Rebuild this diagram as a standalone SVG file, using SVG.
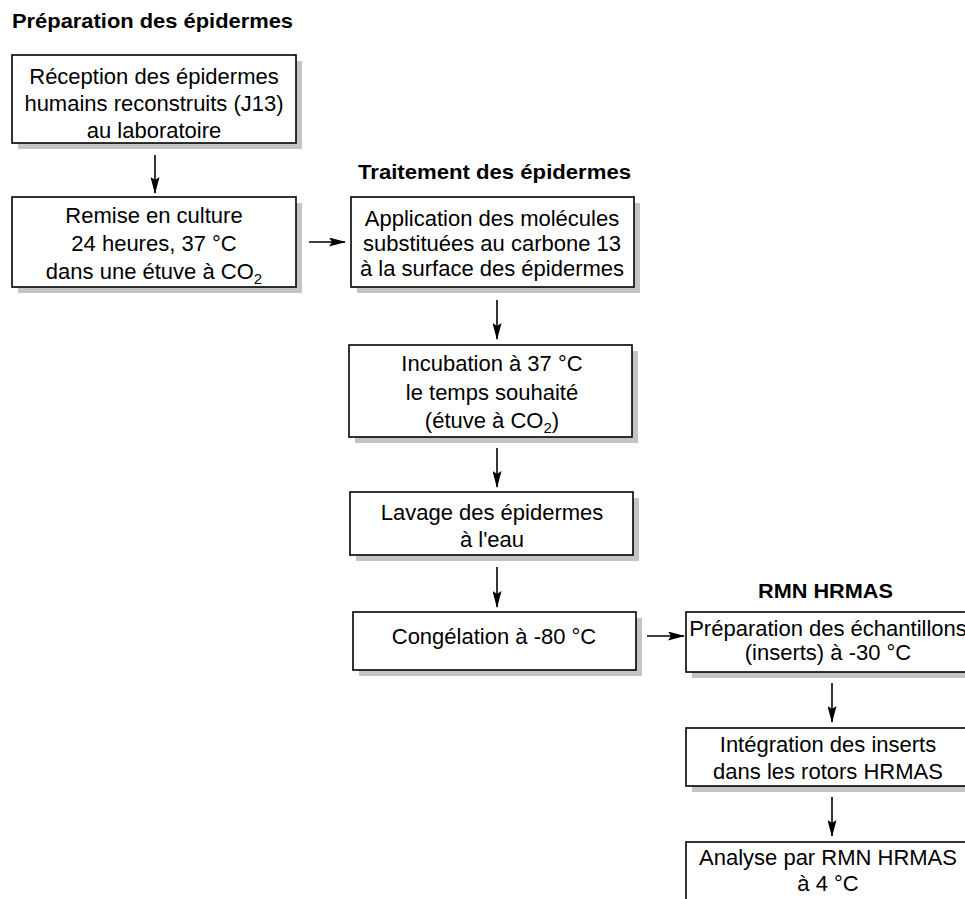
<svg xmlns="http://www.w3.org/2000/svg" width="965" height="899" viewBox="0 0 965 899">
<style>
.box{fill:#fff;stroke:#000;stroke-width:1.6}
.sh{fill:#c4c4c4}
.t{font-family:"Liberation Sans",Arial,sans-serif;font-size:22px;fill:#000;text-anchor:middle}
.h{font-family:"Liberation Sans",Arial,sans-serif;font-size:21px;font-weight:bold;fill:#000}
.sub{font-size:15px}
.c{stroke:#000;stroke-width:1.6;fill:none;marker-end:url(#ah)}
</style>
<defs>
<marker id="ah" markerWidth="17" markerHeight="9" refX="16" refY="4.5" orient="auto" markerUnits="userSpaceOnUse">
<path d="M0,0 L17,4.5 L0,9 L3,4.5 Z" fill="#000"/>
</marker>
</defs>
<rect width="965" height="899" fill="#fff"/>
<text class="h" x="12" y="28" textLength="281" lengthAdjust="spacingAndGlyphs">Préparation des épidermes</text>
<text class="h" x="358" y="179" textLength="273" lengthAdjust="spacingAndGlyphs">Traitement des épidermes</text>
<text class="h" x="758" y="598" textLength="135" lengthAdjust="spacingAndGlyphs">RMN HRMAS</text>

<g id="n1">
<rect class="sh" x="18" y="61" width="284" height="88"/>
<rect class="box" x="12" y="55" width="284" height="88"/>
<text class="t" x="154" y="84">Réception des épidermes</text>
<text class="t" x="154" y="111">humains reconstruits (J13)</text>
<text class="t" x="154" y="138">au laboratoire</text>
</g>
<g id="n2">
<rect class="sh" x="18" y="203" width="284" height="90"/>
<rect class="box" x="12" y="197" width="284" height="90"/>
<text class="t" x="154" y="223">Remise en culture</text>
<text class="t" x="154" y="251">24 heures, 37 °C</text>
<text class="t" x="154" y="279">dans une étuve à CO<tspan class="sub" dy="5">2</tspan></text>
</g>
<g id="n3">
<rect class="sh" x="357" y="203" width="283" height="90"/>
<rect class="box" x="351" y="197" width="283" height="90"/>
<text class="t" x="492" y="226">Application des molécules</text>
<text class="t" x="492" y="251">substituées au carbone 13</text>
<text class="t" x="492" y="276">à la surface des épidermes</text>
</g>
<g id="n4">
<rect class="sh" x="355" y="351" width="283" height="92"/>
<rect class="box" x="349" y="345" width="283" height="92"/>
<text class="t" x="492" y="371">Incubation à 37 °C</text>
<text class="t" x="492" y="400">le temps souhaité</text>
<text class="t" x="492" y="428">(étuve à CO<tspan class="sub" dy="5">2</tspan><tspan dy="-5">)</tspan></text>
</g>
<g id="n5">
<rect class="sh" x="356" y="498" width="283" height="63"/>
<rect class="box" x="350" y="492" width="283" height="63"/>
<text class="t" x="492" y="520">Lavage des épidermes</text>
<text class="t" x="492" y="547">à l'eau</text>
</g>
<g id="n6">
<rect class="sh" x="359" y="618" width="283" height="58"/>
<rect class="box" x="353" y="612" width="283" height="58"/>
<text class="t" x="494" y="644">Congélation à -80 °C</text>
</g>
<g id="n7">
<rect class="sh" x="692" y="618" width="283" height="60"/>
<rect class="box" x="686" y="612" width="283" height="60"/>
<text class="t" x="828" y="636">Préparation des échantillons</text>
<text class="t" x="828" y="660">(inserts) à -30 °C</text>
</g>
<g id="n8">
<rect class="sh" x="692" y="734" width="283" height="58"/>
<rect class="box" x="686" y="728" width="283" height="58"/>
<text class="t" x="828" y="752">Intégration des inserts</text>
<text class="t" x="828" y="779">dans les rotors HRMAS</text>
</g>
<g id="n9">
<rect class="box" x="686" y="842" width="283" height="70"/>
<text class="t" x="828" y="865">Analyse par RMN HRMAS</text>
<text class="t" x="828" y="891">à 4 °C</text>
</g>

<g id="connectors">
<line class="c" x1="155" y1="155" x2="155" y2="193"/>
<line class="c" x1="309" y1="242" x2="345" y2="242"/>
<line class="c" x1="497" y1="300" x2="497" y2="339"/>
<line class="c" x1="497" y1="448" x2="497" y2="487"/>
<line class="c" x1="497" y1="567" x2="497" y2="607"/>
<line class="c" x1="647" y1="636" x2="684" y2="636"/>
<line class="c" x1="832" y1="683" x2="832" y2="722"/>
<line class="c" x1="832" y1="797" x2="832" y2="836"/>
</g>
</svg>
